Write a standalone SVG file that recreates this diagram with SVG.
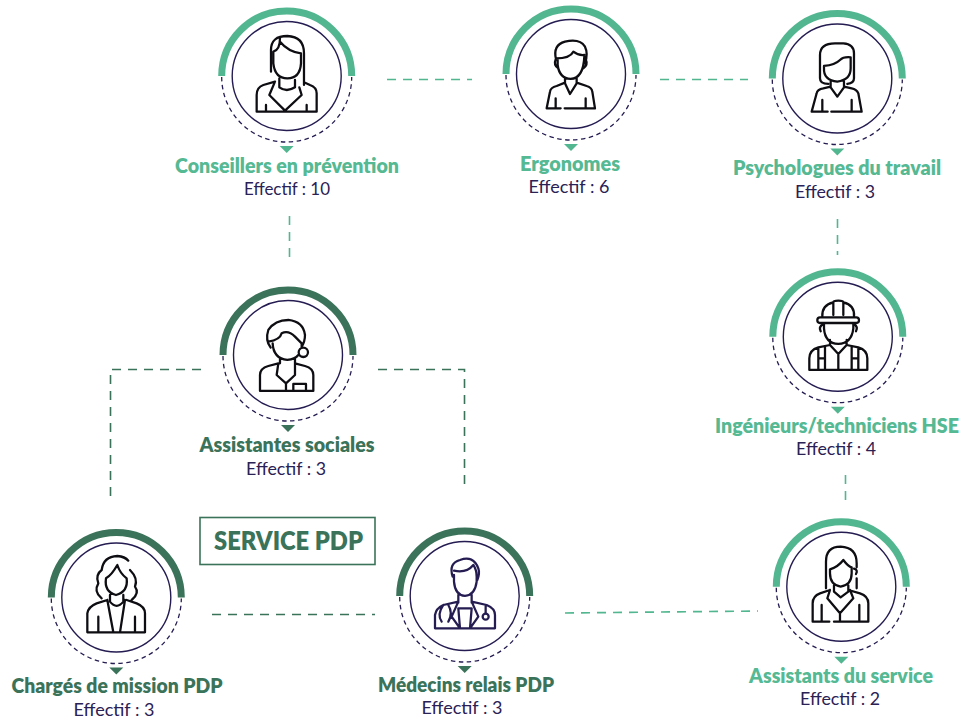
<svg xmlns="http://www.w3.org/2000/svg" width="968" height="720" viewBox="0 0 968 720">
<style>
.dl{fill:none;stroke:#52b690;stroke-width:1.6;stroke-dasharray:9 7}
.dd{fill:none;stroke:#3a7359;stroke-width:1.6;stroke-dasharray:9 7}
.in{fill:none;stroke:#251d52;stroke-width:1.4}
.dash{fill:none;stroke:#251d52;stroke-width:1.3;stroke-dasharray:4.5 3.5}
.lightarc{fill:none;stroke:#52b690;stroke-width:7}
.darkarc{fill:none;stroke:#3a7359;stroke-width:7}
.ic{fill:none;stroke:#0d0d12;stroke-width:6.8;stroke-linecap:round;stroke-linejoin:round}
.nv{stroke:#251d52}
.tl{font-family:"Lato","Liberation Sans",sans-serif;font-weight:800;font-size:21.5px;text-anchor:middle;fill:#55b993}
.td{font-family:"Lato","Liberation Sans",sans-serif;font-weight:800;font-size:21.5px;text-anchor:middle;fill:#3a7359}
.te{font-family:"Lato","Liberation Sans",sans-serif;font-weight:400;font-size:17px;text-anchor:middle;fill:#2a2155}
</style>
<defs>
<g id="ringL">
<path class="lightarc" d="M-65,0A65,65 0 0 1 65,0"/><path class="dash" d="M-65,1A65,65 0 0 0 65,1"/><circle class="in" r="54.5"/><path fill="#52b690" d="M-7,70H7L0,77Z"/>
</g>
<g id="ringD">
<path class="darkarc" d="M-65,0A65,65 0 0 1 65,0"/><path class="dash" d="M-65,1A65,65 0 0 0 65,1"/><circle class="in" r="54.5"/><path fill="#3a7359" d="M-7,70H7L0,77Z"/>
</g>
</defs>
<g id="connectors">
<path class="dl" d="M387,79.500H472"/>
<path class="dl" d="M660,79.500H748"/>
<path class="dl" d="M289.500,216V258"/>
<path class="dl" d="M837.500,219V255"/>
<path class="dl" d="M845.500,475V500"/>
<path class="dd" d="M201,369.500H110.500V497"/>
<path class="dd" d="M378,369.500H464.500V490"/>
<path class="dd" d="M212,614.500H375"/>
<path class="dl" d="M565,613L758,611"/>
</g>
<g id="service-pdp">
<rect x="200" y="517.500" width="175" height="47" fill="none" stroke="#3a7359" stroke-width="1.6"/>
<text x="288.500" y="550" font-family="Lato,'Liberation Sans',sans-serif" font-weight="800" font-size="26.500" text-anchor="middle" fill="#3a7359" textLength="149" lengthAdjust="spacingAndGlyphs">SERVICE PDP</text>
</g>
<g id="conseillers">
<use href="#ringL" x="286.700" y="76"/>
<g transform="translate(200,0) scale(.3333)" class="ic">
<path d="M213,215V150Q213,108 262,108Q312,110 312,160V255M240,115Q240,150 220,155V190Q225,235 262,235Q300,235 303,190V160Q265,155 240,125M238,235V262Q260,278 285,262V240M225,245L190,255Q170,262 170,285V335H350V280Q350,262 330,255L312,247M225,245L208,285L255,332L305,285L298,262M198,335V315M320,335V315"/>
</g>
<text class="tl" x="287" y="173" textLength="224" lengthAdjust="spacingAndGlyphs">Conseillers en prévention</text>
<text class="te" x="287" y="195" textLength="86" lengthAdjust="spacingAndGlyphs">Effectif : 10</text>
</g>
<g id="ergonomes">
<use href="#ringL" x="571" y="74"/>
<g transform="translate(490,0) scale(.3333)" class="ic">
<path d="M198,178Q188,135 225,125Q270,115 285,140Q295,160 285,190M198,175Q240,175 250,155Q265,167 283,165M203,175V195Q208,235 242,237Q280,235 283,170M197,178Q190,195 205,205M287,178Q295,195 280,205M225,235V250L240,282L260,250V235M225,248L200,258Q182,262 180,275L170,325H212M260,248L290,258Q305,262 307,275L315,325H224M197,325V295M287,325V295"/>
</g>
<text class="tl" x="570" y="171" textLength="100" lengthAdjust="spacingAndGlyphs">Ergonomes</text>
<text class="te" x="569" y="193" textLength="81" lengthAdjust="spacingAndGlyphs">Effectif : 6</text>
</g>
<g id="psychologues">
<use href="#ringL" x="837.300" y="78.500"/>
<g transform="translate(760,0) scale(.3333)" class="ic">
<path d="M205,252Q180,252 180,235V165Q180,130 225,130H250Q282,132 282,160V235Q282,250 262,252M192,205Q190,240 232,245Q272,240 272,205V172Q250,170 240,180Q225,195 192,198ZM212,245V262L232,290L252,262V245M212,260L190,265Q172,268 170,280L155,335H203M252,260L275,265Q290,268 295,280L305,335H214M187,335V300M275,335V300"/>
</g>
<text class="tl" x="837" y="175" textLength="208" lengthAdjust="spacingAndGlyphs">Psychologues du travail</text>
<text class="te" x="835" y="198" textLength="80" lengthAdjust="spacingAndGlyphs">Effectif : 3</text>
</g>
<g id="assistantes">
<use href="#ringD" x="288" y="355"/>
<g transform="translate(200,280) scale(.3333)" class="ic">
<path d="M212,203Q195,180 205,150Q225,120 265,120Q310,125 315,165Q315,185 305,200M205,185Q240,180 245,160Q265,150 285,170L305,190V200M218,190Q220,235 262,240Q285,238 295,225M240,238V250M285,238V250M235,250L205,258Q180,265 180,285V333H340V285Q340,265 315,258L285,250M235,250L230,285L258,310L285,285L285,250M258,310V333M280,333V312H318V333"/>
<circle cx="310" cy="217" r="14"/>
</g>
<text class="td" x="287" y="452" textLength="175" lengthAdjust="spacingAndGlyphs">Assistantes sociales</text>
<text class="te" x="286" y="475" textLength="80" lengthAdjust="spacingAndGlyphs">Effectif : 3</text>
</g>
<g id="ingenieurs">
<use href="#ringL" x="837.800" y="336.700"/>
<g transform="translate(760,260) scale(.3333)" class="ic">
<path d="M187,170Q185,135 220,127V165M282,170Q285,135 250,127V165M220,127Q220,122 235,122Q250,122 250,127"/>
<rect x="172" y="172" width="125" height="17" rx="8"/>
<path d="M192,190V205Q195,250 235,252Q275,250 280,205V190M190,192Q175,200 182,214M282,192Q295,200 288,214M210,240V255L235,282L260,255V240M210,255L175,262Q148,270 148,295V330H322V295Q322,270 295,262L260,255M175,330V265M195,330V260M275,330V260M295,330V265M235,282V330M175,295H195M275,295H295"/>
</g>
<text class="tl" x="837" y="433" style="font-size:20.5px" textLength="244" lengthAdjust="spacingAndGlyphs">Ingénieurs/techniciens HSE</text>
<text class="te" x="836" y="455" textLength="80" lengthAdjust="spacingAndGlyphs">Effectif : 4</text>
</g>
<g id="charges">
<use href="#ringD" x="116.300" y="597.500"/>
<g transform="translate(30,520) scale(.3333)" class="ic">
<path d="M215,235Q190,215 205,190Q195,165 215,150Q220,110 262,108Q285,110 295,122M300,150Q325,175 315,200Q330,220 305,240M262,135Q245,165 228,175Q222,215 258,225Q295,215 290,175Q270,160 262,135ZM240,225V245Q260,270 280,245V225M232,240L200,250Q175,260 172,280V337H345V280Q345,260 320,250L290,240M232,240L250,337M285,240L270,337M205,337V290M315,337V290"/>
</g>
<text class="td" x="117" y="693" textLength="211" lengthAdjust="spacingAndGlyphs">Chargés de mission PDP</text>
<text class="te" x="114" y="716" textLength="81" lengthAdjust="spacingAndGlyphs">Effectif : 3</text>
</g>
<g id="medecins">
<use href="#ringD" x="464.700" y="596"/>
<g transform="translate(380,520) scale(.3333)" class="ic nv">
<path d="M218,170Q205,130 240,120Q280,105 295,145Q300,160 292,180M222,152Q260,160 280,135Q290,150 290,170M222,165V185Q225,225 255,228Q285,225 290,185V165M235,225V248M275,225V248M235,245L190,255Q168,265 165,285V325H345V285Q345,265 320,255L275,245M235,245L215,290L240,325L235,265H275L270,325L295,290L275,245M190,255Q170,285 185,305M205,255Q220,280 205,305M317,280V255"/>
<circle cx="317" cy="290" r="9"/>
</g>
<text class="td" x="466" y="692" textLength="176" lengthAdjust="spacingAndGlyphs">Médecins relais PDP</text>
<text class="te" x="462" y="714" textLength="81" lengthAdjust="spacingAndGlyphs">Effectif : 3</text>
</g>
<g id="assistants">
<use href="#ringL" x="841.300" y="586.700"/>
<g transform="translate(750,510) scale(.3333)" class="ic">
<path d="M228,235V155Q228,110 272,110Q320,112 320,160V172M320,205V235M240,178Q265,170 280,150Q295,170 305,172V190Q305,225 272,230Q240,225 240,190ZM312,176Q325,180 318,192M252,226V245L272,262L295,245V226M240,240L210,250Q188,258 188,280V335H238M295,240L330,250Q355,258 355,280V335H252M240,240L232,265L270,310L310,265L300,240M270,310V335M215,335V285M328,335V285"/>
</g>
<text class="tl" x="841" y="683" textLength="184" lengthAdjust="spacingAndGlyphs">Assistants du service</text>
<text class="te" x="840" y="705" textLength="80" lengthAdjust="spacingAndGlyphs">Effectif : 2</text>
</g>
</svg>
